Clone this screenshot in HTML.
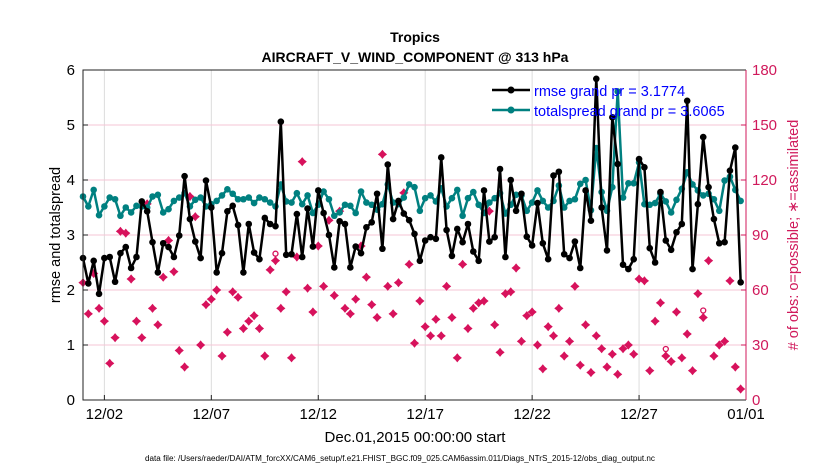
<!DOCTYPE html>
<html><head><meta charset="utf-8"><style>
html,body{margin:0;padding:0;background:#fff;}
svg{display:block;font-family:"Liberation Sans",sans-serif;}
</style></head><body>
<svg id="chart" width="830" height="470" viewBox="0 0 830 470" xmlns="http://www.w3.org/2000/svg">
<text x="415" y="42" text-anchor="middle" font-size="14" font-weight="bold">Tropics</text>
<text x="415" y="62" text-anchor="middle" font-size="14" font-weight="bold">AIRCRAFT_V_WIND_COMPONENT @ 313 hPa</text>
<g id="grid"></g>
<g id="marks"></g>
<g id="axes"></g>
<text transform="translate(60,235) rotate(-90)" text-anchor="middle" font-size="14.5">rmse and totalspread</text>
<text transform="translate(798,235) rotate(-90)" text-anchor="middle" font-size="14.5" fill="#d0195b"># of obs: o=possible; ∗=assimilated</text>
<text x="415" y="442" text-anchor="middle" font-size="15">Dec.01,2015 00:00:00 start</text>
<text x="400" y="461" text-anchor="middle" font-size="8" textLength="510" lengthAdjust="spacingAndGlyphs">data file: /Users/raeder/DAI/ATM_forcXX/CAM6_setup/f.e21.FHIST_BGC.f09_025.CAM6assim.011/Diags_NTrS_2015-12/obs_diag_output.nc</text>
<g>
<line x1="492" y1="90" x2="530" y2="90" stroke="#000" stroke-width="2.5"/><circle cx="511" cy="90" r="3.5" fill="#000"/>
<text x="534" y="96" font-size="14.5" fill="#0000ff">rmse grand pr = 3.1774</text>
<line x1="492" y1="110" x2="530" y2="110" stroke="#008080" stroke-width="2.5"/><circle cx="511" cy="110" r="3.5" fill="#008080"/>
<text x="534" y="116" font-size="14.5" fill="#0000ff">totalspread grand pr = 3.6065</text>
</g>
</svg>
<script>
const rmse=[2.58,2.12,2.53,1.93,2.58,2.6,2.15,2.67,2.78,2.4,2.6,3.61,3.43,2.87,2.32,2.85,2.78,2.6,2.99,4.07,3.29,2.88,2.58,3.99,3.5,2.32,2.67,3.43,3.53,3.18,2.32,3.2,
2.68,2.56,3.31,3.2,3.16,5.06,2.64,2.65,3.38,2.6,3.48,2.79,3.81,3.4,3.0,2.41,3.25,3.2,2.41,2.79,2.67,3.14,3.23,3.75,2.75,4.28,3.29,3.62,3.39,3.27,3.02,
2.53,2.9,2.96,2.93,4.41,3.09,2.62,3.11,2.87,3.2,2.7,2.53,3.81,2.88,2.96,4.2,2.6,4.0,3.44,3.75,2.97,2.81,3.58,2.85,2.56,4.08,4.15,2.65,2.58,2.88,2.4,
3.81,3.26,5.84,3.5,2.72,5.14,4.29,2.46,2.38,2.56,4.38,4.23,2.76,2.5,3.78,2.9,2.73,3.05,3.2,5.44,2.38,3.56,4.78,3.87,3.29,2.85,2.87,4.17,4.59,2.14];
const spread=[3.7,3.52,3.82,3.36,3.52,3.68,3.65,3.35,3.5,3.41,3.53,3.52,3.5,3.7,3.73,3.41,3.47,3.62,3.68,3.76,3.52,3.64,3.68,3.52,3.56,3.62,3.72,3.83,3.75,3.65,3.65,3.68,
3.58,3.68,3.65,3.59,3.52,3.92,3.61,3.59,3.76,3.56,3.72,3.4,3.55,3.79,3.65,3.35,3.41,3.55,3.53,3.4,3.79,3.59,3.55,3.46,3.56,3.92,3.59,3.56,3.68,3.92,3.87,
3.44,3.67,3.72,3.61,3.85,3.52,3.67,3.82,3.35,3.67,3.78,3.55,3.4,3.59,3.67,3.76,3.39,3.55,3.73,3.72,3.44,3.59,3.81,3.62,3.5,3.62,3.9,3.5,3.62,3.65,3.93,
4.0,3.45,4.58,3.78,3.44,3.87,5.61,3.68,3.94,3.94,4.32,3.56,3.55,3.58,3.75,3.61,3.41,3.64,3.84,4.14,3.92,3.81,3.72,3.75,3.65,3.44,3.99,4.06,3.82,3.62];
const nobs=[64,47,69,50,43,20,34,92,91,66,43,34,107,50,41,67,87,70,27,18,111,100,30,52,55,60,24,37,59,56,39,43,
46,39,24,71,76,50,59,23,78,130,61,48,84,62,98,57,103,50,47,55,84,67,52,45,134,62,47,64,113,74,31,
54,40,35,44,35,62,45,23,74,39,50,53,54,103,41,26,58,59,72,32,46,48,30,17,40,35,50,24,32,62,19,
41,15,35,28,18,25,14,28,30,25,66,65,16,43,53,24,21,48,23,36,16,58,45,76,24,30,32,65,18,6];
const possibleIdx=[36,109,116];
const xTicks=[1,6,11,16,21,26,31];
const xTickLabels=["12/02","12/07","12/12","12/17","12/22","12/27","01/01"];
const yTicks=[0,1,2,3,4,5,6];
const rTicks=[0,30,60,90,120,150,180];

const NS="http://www.w3.org/2000/svg";
const L=83,R=746,T=70,B=400;
const xs=d=>L+(d/31)*(R-L);
const ys=v=>B-(v/6)*(B-T);
const yr=c=>B-(c/180)*(B-T);
const tOf=i=>i*0.25;
function mk(parent,tag,attrs){const e=document.createElementNS(NS,tag);for(const k in attrs)e.setAttribute(k,attrs[k]);parent.appendChild(e);return e;}
const grid=document.getElementById('grid'),marks=document.getElementById('marks'),axes=document.getElementById('axes');
xTicks.forEach((d,i)=>{
  const g=mk(grid,'line',{x1:xs(d),x2:xs(d),y1:T,y2:B,stroke:'#dcdcdc','stroke-width':1});
  
  
  const t=mk(axes,'text',{x:xs(d),y:419,'text-anchor':'middle','font-size':15});
  t.textContent=xTickLabels[i];
  
  
  mk(axes,'line',{x1:xs(d),x2:xs(d),y1:B,y2:B-5,stroke:'#222'});
});
yTicks.forEach(v=>{
  if(v>0&&v<6){const g=mk(grid,'line',{x1:L,x2:R,y1:ys(v),y2:ys(v),stroke:'#f4c6d6','stroke-width':1});
  
  }
  const t=mk(axes,'text',{x:75,y:ys(v)+5,'text-anchor':'end','font-size':15});
  t.textContent=v;
  
  
  mk(axes,'line',{x1:L,x2:L+5,y1:ys(v),y2:ys(v),stroke:'#222'});
});
rTicks.forEach(c=>{
  const t=mk(axes,'text',{x:752,y:yr(c)+5,'font-size':15,fill:'#d0195b'});
  t.textContent=c;
  
  
  mk(axes,'line',{x1:R,x2:R-5,y1:yr(c),y2:yr(c),stroke:'#d0195b'});
});
const fr=mk(axes,'path',{d:`M${R},${T}H${L}V${B}H${R}`,fill:'none',stroke:'#222','stroke-width':1});


const ra=mk(axes,'line',{x1:R,x2:R,y1:T,y2:B,stroke:'#d0195b','stroke-width':1});



nobs.forEach((c,i)=>{
  const x=xs(tOf(i)),y=yr(c),r=4.6;
  const p=mk(marks,'path',{d:`M${x},${y-r}L${x+r*0.45},${y-r*0.45}L${x+r},${y}L${x+r*0.45},${y+r*0.45}L${x},${y+r}L${x-r*0.45},${y+r*0.45}L${x-r},${y}L${x-r*0.45},${y-r*0.45}Z`,fill:'#d7125c'});
  
  
});
possibleIdx.forEach(i=>{
  const c=mk(marks,'circle',{cx:xs(tOf(i)),cy:yr(nobs[i])-7,r:2.5,fill:'none',stroke:'#d7125c','stroke-width':1.3});
  
  
});
function series(arr,color,name){
  const d=arr.map((v,i)=>(i?'L':'M')+xs(tOf(i)).toFixed(1)+','+ys(v).toFixed(1)).join('');
  const p=mk(marks,'path',{d:d,fill:'none',stroke:color,'stroke-width':2.5,'stroke-linejoin':'round'});
  
  
  arr.forEach((v,i)=>{
    const c=mk(marks,'circle',{cx:xs(tOf(i)),cy:ys(v),r:3.3,fill:color});
    
    
  });
}
series(spread,'#008080','totalspread');
series(rmse,'#000000','rmse');
</script>
</body></html>
